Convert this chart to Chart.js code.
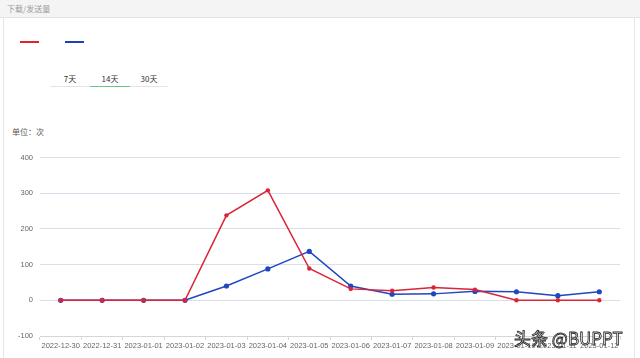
<!DOCTYPE html>
<html><head><meta charset="utf-8">
<script src="https://cdn.jsdelivr.net/npm/chart.js@4/dist/chart.umd.min.js"></script>
<style>
html,body{margin:0;padding:0;background:#fff;width:640px;height:358px;overflow:hidden;font-family:"Liberation Sans","Noto Sans CJK SC",sans-serif;}
#card{position:absolute;left:3px;top:0;width:630px;height:358px;border-left:1px solid #e6e6e6;border-right:1px solid #e6e6e6;}
#hdr{position:absolute;left:0;top:0;width:640px;height:18px;background:#f4f4f4;border-bottom:1px solid #e2e2e2;font-size:8px;color:#999;line-height:18px;padding-left:7px;box-sizing:border-box;font-family:"Noto Sans CJK SC",sans-serif;}
.lg{position:absolute;top:41px;width:19px;height:2px;}
.tab{position:absolute;top:73px;font-size:8px;color:#333;width:40px;text-align:center;font-family:"Noto Sans CJK SC",sans-serif;}
#uline{position:absolute;left:50px;top:86px;width:118px;height:1px;background:#e3e3e3;}
#gline{position:absolute;left:90px;top:86px;width:40px;height:1px;background:#6cc48a;}
#unit{position:absolute;left:12px;top:126px;font-size:8px;color:#555;font-family:"Noto Sans CJK SC",sans-serif;}
#wrap{position:absolute;left:0;top:146px;width:640px;height:212px;}
#wm{position:absolute;left:514px;top:325px;font-size:17px;color:#fff;-webkit-text-stroke:0.8px #222;font-family:"Noto Sans CJK SC",sans-serif;}
</style></head><body>
<div id="card"></div>
<div id="hdr">下载/发送量</div>
<div class="lg" style="left:20px;background:#e3212f"></div>
<div class="lg" style="left:65px;background:#1d3fb8"></div>
<div class="tab" style="left:50px">7天</div>
<div class="tab" style="left:90px">14天</div>
<div class="tab" style="left:129px">30天</div>
<div id="uline"></div><div id="gline"></div>
<div id="unit">单位：次</div>
<div id="wrap"><canvas id="c"></canvas></div>
<div id="wm">头条 @BUPPT</div>
<script>
const categories = ["2022-12-30","2022-12-31","2023-01-01","2023-01-02","2023-01-03","2023-01-04","2023-01-05","2023-01-06","2023-01-07","2023-01-08","2023-01-09","2023-01-10","2023-01-11","2023-01-12"];
const seriesRed = [0,0,0,0,238,308,89,32,27,36,30,0,0,0];
const seriesBlue = [0,0,0,0,40,88,137,40,17,18,25,24,13,24];
const yTicks = [-100,0,100,200,300,400];

new Chart(document.getElementById('c'), {
  type: 'line',
  data: {
    labels: categories,
    datasets: [
      {label:'', data: seriesRed, borderColor:'#dc2438', backgroundColor:'#dc2438', borderWidth:1.5, pointRadius:2.2, pointBorderWidth:0, tension:0},
      {label:'', data: seriesBlue, borderColor:'#1f47c0', backgroundColor:'#1f47c0', borderWidth:1.5, pointRadius:2.6, pointBorderWidth:0, tension:0}
    ]
  },
  options: {
    responsive:true, maintainAspectRatio:false, animation:false,
    layout:{padding:{top:3,right:20,left:0,bottom:0}},
    plugins:{legend:{display:false},tooltip:{enabled:false}},
    scales:{
      x:{
        offset:true,
        grid:{offset:true,drawOnChartArea:false,drawTicks:true,tickLength:4,color:'#d6d6d6'},
        border:{color:'#d6d6d6'},
        ticks:{autoSkip:false,maxRotation:0,minRotation:0,color:'#666',font:{size:7.5,family:'"Liberation Sans"'},padding:1},
        afterFit(s){s.height=22;}
      },
      y:{
        min:-100,max:400,
        afterBuildTicks(s){s.ticks = yTicks.map(v=>({value:v}));},
        grid:{color:'#d9dfeb',drawTicks:false},
        border:{display:false},
        ticks:{color:'#666',font:{size:7.5,family:'"Liberation Sans"'},padding:7},
        afterFit(s){s.width=40;}
      }
    }
  }
});
</script>
</body></html>
